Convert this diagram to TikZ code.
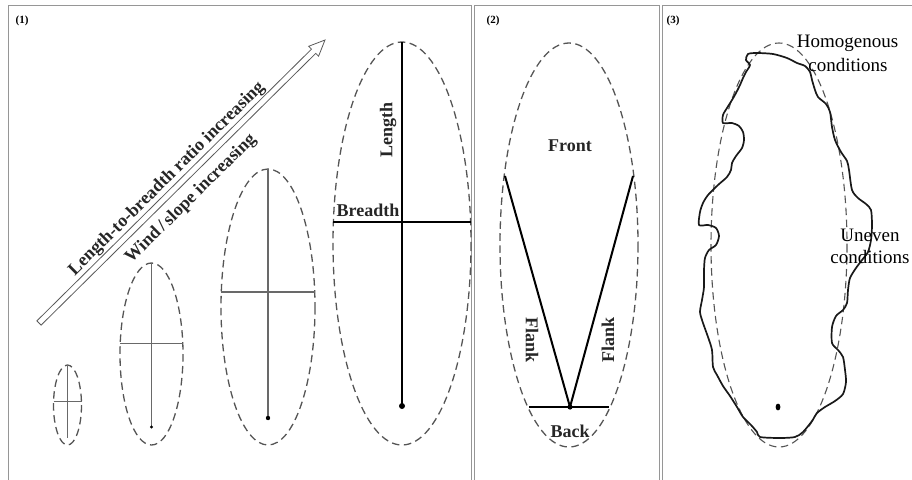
\documentclass[tikz,border=0pt]{standalone}
\usepackage{fontspec}
\setmainfont{Liberation Serif}
\usetikzlibrary{calc}
\definecolor{framegray}{RGB}{150,150,150}
\definecolor{dashgray}{RGB}{85,85,85}
\definecolor{thingray}{RGB}{105,105,105}
\tikzset{
  panelframe/.style={draw=framegray, line width=1pt},
  outline/.style={draw=dashgray, line width=1.3pt, dash pattern=on 7.5pt off 4.5pt},
  thinaxis/.style={draw=thingray, line width=0.9pt},
  midaxis/.style={draw=thingray, line width=1.1pt},
  thickaxis/.style={draw=black, line width=2pt},
  boldlabel/.style={font=\fontsize{18}{20}\selectfont\bfseries, inner sep=0pt, text=black!85},
  plainlabel/.style={font=\fontsize{19}{21}\selectfont, inner sep=0pt, text=black},
  panellabel/.style={font=\fontsize{11}{12}\selectfont\bfseries, inner sep=0pt},
  blobline/.style={draw=black!90, line width=1.7pt, line join=round},
}
\begin{document}
\begin{tikzpicture}[x=1pt,y=-1pt]
\useasboundingbox (0,0) rectangle (912,479);
% panel frames
\draw[panelframe] (8,490) -- (8,5) -- (471,5) -- (471,490);
\draw[panelframe] (474,490) -- (474,5) -- (659,5) -- (659,490);
\draw[panelframe] (662,490) -- (662,5) -- (920,5);
\node[panellabel] (lab1) at (22,21) {(1)};
\node[panellabel] (lab2) at (493,21) {(2)};
\node[panellabel] (lab3) at (673,21) {(3)};

% ---------- panel 1 ----------
% hollow arrow
\coordinate (arT) at (39,323);
\coordinate (arP) at (325,40);
\coordinate (arB) at ($(arP)!16pt!(arT)$);
\draw[draw=black!65, line width=0.8pt, line join=miter]
  ($(arT)!3pt!90:(arP)$) -- ($(arB)!3pt!-90:(arT)$) -- ($(arB)!7pt!-90:(arT)$) -- (arP)
  -- ($(arB)!7pt!90:(arT)$) -- ($(arB)!3pt!90:(arT)$) -- ($(arT)!3pt!-90:(arP)$) -- cycle;
\node[boldlabel, rotate=44.7] (ratio) at (167,179) {Length-to-breadth ratio increasing};
\node[boldlabel, rotate=44.7] (wind) at (191,199) {Wind\,/\,slope increasing};

% ellipse 1
\coordinate (e1) at (67.5,405);
\draw[outline] (e1) ellipse [x radius=14, y radius=40];
\coordinate (e1t) at (67.5,365); \coordinate (e1b) at (67.5,438);
\coordinate (e1l) at (53.5,401); \coordinate (e1r) at (81.5,401);
\draw[thinaxis] (e1t) -- (e1b);
\draw[thinaxis] (e1l) -- (e1r);

% ellipse 2
\coordinate (e2) at (151.5,354);
\draw[outline] (e2) ellipse [x radius=31.5, y radius=91];
\coordinate (e2t) at (151.5,263); \coordinate (e2b) at (151.5,427);
\coordinate (e2l) at (120,343); \coordinate (e2r) at (183,343);
\draw[thinaxis] (e2t) -- (e2b);
\draw[thinaxis] (e2l) -- (e2r);
\fill (e2b) circle (1.6);

% ellipse 3
\coordinate (e3) at (268,307);
\draw[outline] (e3) ellipse [x radius=47, y radius=138];
\coordinate (e3t) at (268,169); \coordinate (e3b) at (268,418);
\coordinate (e3l) at (221,292); \coordinate (e3r) at (315,292);
\draw[midaxis] (e3t) -- (e3b);
\draw[midaxis] (e3l) -- (e3r);
\fill (e3b) circle (2.2);

% ellipse 4
\coordinate (e4) at (402,243.5);
\draw[outline] (e4) ellipse [x radius=69, y radius=201.5];
\coordinate (e4t) at (402,42); \coordinate (e4b) at (402,406);
\coordinate (e4l) at (333,222); \coordinate (e4r) at (471,222);
\draw[thickaxis] (e4t) -- (e4b);
\draw[thickaxis] (e4l) -- (e4r);
\fill (e4b) circle (3);
\node[boldlabel, rotate=90] (length) at (388,130) {Length};
\node[boldlabel] (breadth) at (368,210) {Breadth};

% ---------- panel 2 ----------
\coordinate (f2) at (569,245);
\draw[outline] (f2) ellipse [x radius=69, y radius=202];
\coordinate (vl) at (505,176);
\coordinate (vb) at (570,407);
\coordinate (vr) at (633,176);
\coordinate (bl) at (529,407);
\coordinate (br) at (609,407);
\draw[thickaxis, line join=round] (vl) -- (vb) -- (vr);
\draw[thickaxis] (bl) -- (br);
\fill (vb) circle (2.6);
\node[boldlabel] (front) at (570,146) {Front};
\node[boldlabel] (back) at (570,431) {Back};
\node[boldlabel, rotate=-90] (flankl) at (532,340) {Flank};
\node[boldlabel, rotate=90] (flankr) at (608,340) {Flank};

% ---------- panel 3 ----------
\coordinate (f3) at (779,245);
\draw[outline, line width=1.1pt] (f3) ellipse [x radius=68, y radius=202];
\draw[blobline] plot[smooth cycle, tension=0.45] coordinates {
 (748,54) (757,53) (773,54) (787,58) (797,63) (805,66) (810,72) (812,80)
 (815,90) (818,97) (826,104) (830,112) (832,127) (835,140) (841,152)
 (847,161) (849,170) (852,190) (858,198) (866,204) (871,210) (872,225)
 (871,240) (868,252) (862,260) (856,268) (850,278) (848,290) (847,303)
 (843,310) (836,316) (832,327) (832,343) (838,350) (843,357) (845,370)
 (846,382) (843,394) (835,401) (825,407) (817,413) (812,421) (803,432)
 (795,437) (780,438) (760,437) (757,432) (751,425) (743,417) (737,407)
 (730,396) (723,386) (717,375) (713,367) (712,350) (708,337) (703,323)
 (700,312) (702,300) (704,287) (704,270) (705,258) (709,250) (716,245)
 (719,236) (716,228) (708,225) (699,225) (700,212) (703,203) (708,195)
 (718,185) (727,177) (731,170) (732,163) (736,156) (742,148) (744,140)
 (743,132) (739,126) (732,123) (723,123) (723,115) (727,108) (732,100)
 (736,93) (740,85) (743,78) (746,72) (750,65) (746,60)};
\fill (778,407) ellipse [x radius=2.4, y radius=3.4];
\node[plainlabel] (homog) at (847.5,43) {Homogenous};
\node[plainlabel] (homogc) at (848,65) {conditions};
\node[plainlabel] (uneven) at (870,235) {Uneven};
\node[plainlabel] (unevenc) at (870,257) {conditions};
\end{tikzpicture}
\end{document}
